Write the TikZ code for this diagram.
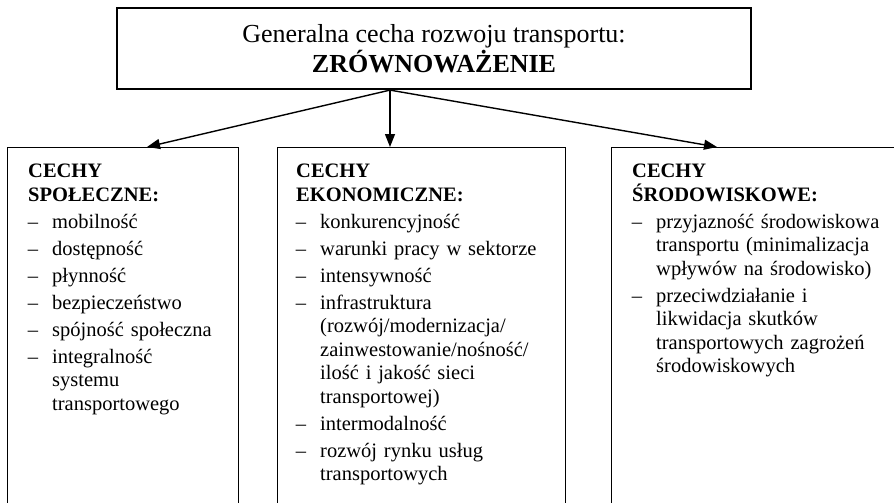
\documentclass[tikz,border=0pt]{standalone}
\usepackage{fontspec}
\setmainfont{Liberation Serif}
\usepackage{enumitem}
\usetikzlibrary{arrows.meta}

\setlist[itemize]{label=--, leftmargin=24pt, labelsep=14pt,
    topsep=3.5pt, partopsep=0pt, itemsep=3.5pt, parsep=0pt}

\begin{document}
\begin{tikzpicture}[
    x=1pt, y=-1pt,
    strzalka/.style={-{Triangle[length=13pt,width=10pt]}, line width=1.4pt},
    rama/.style={
        draw,
        line width=1.4pt,
        anchor=north west,
        inner sep=0pt,
        minimum height=420pt
    },
    lista/.style={
        anchor=north west,
        inner sep=0pt,
        align=left,
        font=\fontsize{20.5}{23.5}\selectfont
    }
]

\useasboundingbox (0,0) rectangle (894,503);
\clip (0,0) rectangle (894,503);

%---------------------------------
% Top box
%---------------------------------

\node[draw, line width=2.2pt, minimum width=634pt, minimum height=81pt,
      align=center, font=\fontsize{26}{30}\selectfont]
    (glowna) at (434,48.5)
    {Generalna cecha rozwoju transportu:\\ \textbf{ZRÓWNOWAŻENIE}};

%---------------------------------
% Frames
%---------------------------------

\node[rama, minimum width=231pt] (spol) at (7,147) {};
\node[rama, minimum width=288pt] (ekon) at (277,147) {};
\node[rama, minimum width=300pt] (srod) at (611,147) {};

%---------------------------------
% Texts
%---------------------------------

% Social
\node[lista, text width=205pt] (spoltxt) at (28,164) {%
    \textbf{CECHY\\ SPOŁECZNE:}
    \begin{itemize}
        \item mobilność
        \item dostępność
        \item płynność
        \item bezpieczeństwo
        \item spójność społeczna
        \item integralność\\ systemu\\ transportowego
    \end{itemize}};

% Economic
\node[lista, text width=262pt] (ekontxt) at (296,164) {%
    \textbf{CECHY\\ EKONOMICZNE:}
    \begin{itemize}
        \item konkurencyjność
        \item warunki pracy w sektorze
        \item intensywność
        \item infrastruktura\\ (rozwój/modernizacja/\\ zainwestowanie/nośność/\\ ilość i jakość sieci\\ transportowej)
        \item intermodalność
        \item rozwój rynku usług\\ transportowych
    \end{itemize}};

% Environmental
\node[lista, text width=258pt] (srodtxt) at (632,164) {%
    \textbf{CECHY\\ ŚRODOWISKOWE:}
    \begin{itemize}
        \item przyjazność środowiskowa\\ transportu (minimalizacja\\ wpływów na środowisko)
        \item przeciwdziałanie i\\ likwidacja skutków\\ transportowych zagrożeń\\ środowiskowych
    \end{itemize}};

%---------------------------------
% Arrows
%---------------------------------

\draw[strzalka] ([xshift=-44pt]glowna.south) -- ([xshift=140pt]spol.north west);
\draw[strzalka] ([xshift=-44pt]glowna.south) -- ([xshift=113pt]ekon.north west);
\draw[strzalka] ([xshift=-44pt]glowna.south) -- ([xshift=106pt]srod.north west);

\end{tikzpicture}
\end{document}
